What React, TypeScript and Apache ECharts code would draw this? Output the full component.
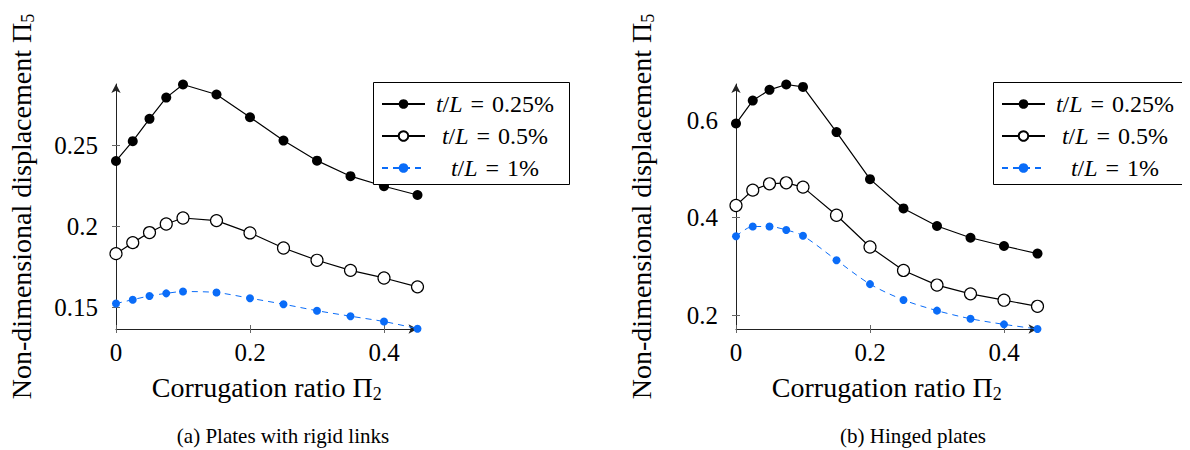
import React, { useEffect, useRef } from "react";
import * as echarts from "echarts";

const xValues = [0, 0.025, 0.05, 0.075, 0.1, 0.15, 0.2, 0.25, 0.3, 0.35, 0.4, 0.45];
const seriesNames = ["t/L = 0.25%", "t/L = 0.5%", "t/L = 1%"];

const rigid025 = [0.2405, 0.2527, 0.2665, 0.2796, 0.2877, 0.2815, 0.2675, 0.2531, 0.2407, 0.2311, 0.2249, 0.2195];
const rigid05 = [0.1833, 0.1901, 0.1963, 0.2016, 0.2053, 0.2037, 0.1961, 0.1868, 0.1792, 0.173, 0.1683, 0.1628];
const rigid1 = [0.1525, 0.1549, 0.1572, 0.1588, 0.1599, 0.1593, 0.1558, 0.1521, 0.1481, 0.1447, 0.1414, 0.137];

const hinged025 = [0.593, 0.64, 0.662, 0.673, 0.668, 0.5755, 0.479, 0.419, 0.383, 0.359, 0.342, 0.3265];
const hinged05 = [0.425, 0.4565, 0.4695, 0.4715, 0.4627, 0.405, 0.34, 0.292, 0.262, 0.244, 0.231, 0.2185];
const hinged1 = [0.362, 0.382, 0.382, 0.375, 0.363, 0.313, 0.264, 0.2315, 0.2096, 0.193, 0.1815, 0.172];

const xTicks = [0, 0.2, 0.4];
const rigidYTicks = [0.15, 0.2, 0.25];
const hingedYTicks = [0.2, 0.4, 0.6];

const xTitle = "Corrugation ratio Π|2";
const yTitle = "Non-dimensional displacement Π|5";
const captions = ["(a) Plates with rigid links", "(b) Hinged plates"];

const FONT = '"Liberation Serif", "DejaVu Serif", serif';
const BLUE = "#0a6cf8";
const AXIS = "#222";

const toPairs = (ys: number[]) => xValues.map((x, i) => [x, ys[i]]);

const nameWithSub = (s: string) => {
  const [m, sub] = s.split("|");
  return `{m|${m}}{s|${sub}}`;
};

const xNameRich = {
  m: { fontFamily: FONT, fontSize: 28, color: "#000", lineHeight: 32 },
  s: { fontFamily: FONT, fontSize: 18, color: "#000", lineHeight: 22, verticalAlign: "bottom" },
};
const yNameRich = {
  m: { fontFamily: FONT, fontSize: 28, color: "#000", lineHeight: 32 },
  s: { fontFamily: FONT, fontSize: 18, color: "#000", lineHeight: 22, verticalAlign: "bottom" },
};

function makeAxes(gridIndex: number, yMin: number, yMax: number, yTicks: number[]) {
  const xMain = {
    type: "value",
    gridIndex,
    min: 0,
    max: 0.45,
    position: "bottom",
    name: nameWithSub(xTitle),
    nameLocation: "middle",
    nameGap: 42,
    nameTextStyle: { rich: xNameRich },
    axisLine: {
      show: true,
      onZero: false,
      symbol: ["none", "arrow"],
      symbolSize: [7, 9],
      lineStyle: { color: AXIS, width: 1 },
    },
    axisTick: { show: true, inside: false, length: 4, customValues: xTicks, lineStyle: { color: "#666" } },
    axisLabel: {
      customValues: xTicks,
      fontFamily: FONT,
      fontSize: 25,
      color: "#000",
      margin: 11,
      formatter: (v: number) => String(v),
    },
    splitLine: { show: false },
  };
  const xDup = {
    type: "value",
    gridIndex,
    min: 0,
    max: 0.45,
    position: "bottom",
    axisLine: { show: false, onZero: false },
    axisTick: { show: true, inside: true, length: 4, customValues: xTicks, lineStyle: { color: "#666" } },
    axisLabel: { show: false },
    splitLine: { show: false },
  };
  const yMain = {
    type: "value",
    gridIndex,
    min: yMin,
    max: yMax,
    position: "left",
    name: nameWithSub(yTitle),
    nameLocation: "middle",
    nameGap: 79,
    nameTextStyle: { rich: yNameRich },
    axisLine: {
      show: true,
      onZero: false,
      symbol: ["none", "arrow"],
      symbolSize: [7, 9],
      lineStyle: { color: AXIS, width: 1 },
    },
    axisTick: { show: true, inside: false, length: 4, customValues: yTicks, lineStyle: { color: "#666" } },
    axisLabel: {
      customValues: yTicks,
      fontFamily: FONT,
      fontSize: 25,
      color: "#000",
      margin: 18,
      formatter: (v: number) => String(v),
    },
    splitLine: { show: false },
  };
  const yDup = {
    type: "value",
    gridIndex,
    min: yMin,
    max: yMax,
    position: "left",
    axisLine: { show: false, onZero: false },
    axisTick: { show: true, inside: true, length: 4, customValues: yTicks, lineStyle: { color: "#666" } },
    axisLabel: { show: false },
    splitLine: { show: false },
  };
  return { x: [xMain, xDup], y: [yMain, yDup] };
}

function makeSeries(axisIndex: number, data: number[][]) {
  const common = { type: "line", xAxisIndex: axisIndex, yAxisIndex: axisIndex, z: 3 };
  return [
    {
      ...common,
      name: seriesNames[0],
      data: toPairs(data[0]),
      symbol: "circle",
      symbolSize: 10,
      itemStyle: { color: "#000" },
      lineStyle: { color: "#000", width: 1.2 },
    },
    {
      ...common,
      name: seriesNames[1],
      data: toPairs(data[1]),
      symbol: "circle",
      symbolSize: 12,
      itemStyle: { color: "#fff", borderColor: "#000", borderWidth: 1.2 },
      lineStyle: { color: "#000", width: 1.2 },
    },
    {
      ...common,
      name: seriesNames[2],
      data: toPairs(data[2]),
      symbol: "circle",
      symbolSize: 8,
      smooth: 0.3,
      itemStyle: { color: BLUE },
      lineStyle: { color: BLUE, width: 1, type: [6, 5] },
    },
  ];
}

const legendFormatter = (name: string) => {
  const rest = name.replace("t/L", "").replace("=", "").trim();
  return `{it|t}{n|/}{it|L}{eq|=}{n|${rest}}`;
};

const legendRich = {
  it: { fontFamily: FONT, fontSize: 24, fontStyle: "italic", color: "#000", align: "center" },
  n: { fontFamily: FONT, fontSize: 24, color: "#000", align: "center" },
  eq: { fontFamily: FONT, fontSize: 24, color: "#000", align: "center", padding: [0, 8, 0, 8] },
};

function makeLegend(left: number) {
  return {
    show: true,
    left,
    top: 82,
    orient: "vertical",
    data: seriesNames,
    selectedMode: false,
    itemWidth: 43,
    itemHeight: 12,
    itemGap: 8,
    padding: [10, 10, 10, 8],
    borderWidth: 0,
    backgroundColor: "transparent",
    formatter: legendFormatter,
    textStyle: { fontFamily: FONT, fontSize: 24, color: "#000", width: 130, rich: legendRich },
    z: 10,
  };
}

function legendBox(left: number) {
  return {
    type: "rect",
    left,
    top: 82,
    z: 8,
    shape: { width: 196, height: 102 },
    style: { fill: "#fff", stroke: "#000", lineWidth: 1 },
  };
}

export default function App() {
  const ref = useRef<HTMLDivElement>(null);
  useEffect(() => {
    if (!ref.current) return;
    const chart = echarts.init(ref.current, null, { renderer: "svg" });
    const a = makeAxes(0, 0.1368, 0.288, rigidYTicks);
    const b = makeAxes(1, 0.172, 0.674, hingedYTicks);
    const captionStyle = { fontFamily: FONT, fontSize: 21, fontWeight: "normal", color: "#000" };
    const option: any = {
      animation: false,
      backgroundColor: "#fff",
      textStyle: { fontFamily: FONT },
      grid: [
        { left: 116, top: 84, width: 301.5, height: 245, containLabel: false, outerBoundsMode: "none" },
        { left: 736, top: 84, width: 301.5, height: 245, containLabel: false, outerBoundsMode: "none" },
      ],
      xAxis: [a.x[0], a.x[1], b.x[0], b.x[1]],
      yAxis: [a.y[0], a.y[1], b.y[0], b.y[1]],
      series: [
        ...makeSeries(0, [rigid025, rigid05, rigid1]),
        ...makeSeries(2, [hinged025, hinged05, hinged1]),
      ],
      legend: [makeLegend(373), makeLegend(993)],
      graphic: [legendBox(373), legendBox(993)],
      title: [
        { text: captions[0], left: 278, top: 420, textAlign: "center", textStyle: captionStyle },
        { text: captions[1], left: 908, top: 420, textAlign: "center", textStyle: captionStyle },
      ],
      tooltip: { show: false },
    };
    chart.setOption(option);
    return () => chart.dispose();
  }, []);
  return (
    <div
      ref={ref}
      style={{ width: 1190, height: 450, margin: "-8px 0 0 -8px", background: "#fff" }}
    />
  );
}
